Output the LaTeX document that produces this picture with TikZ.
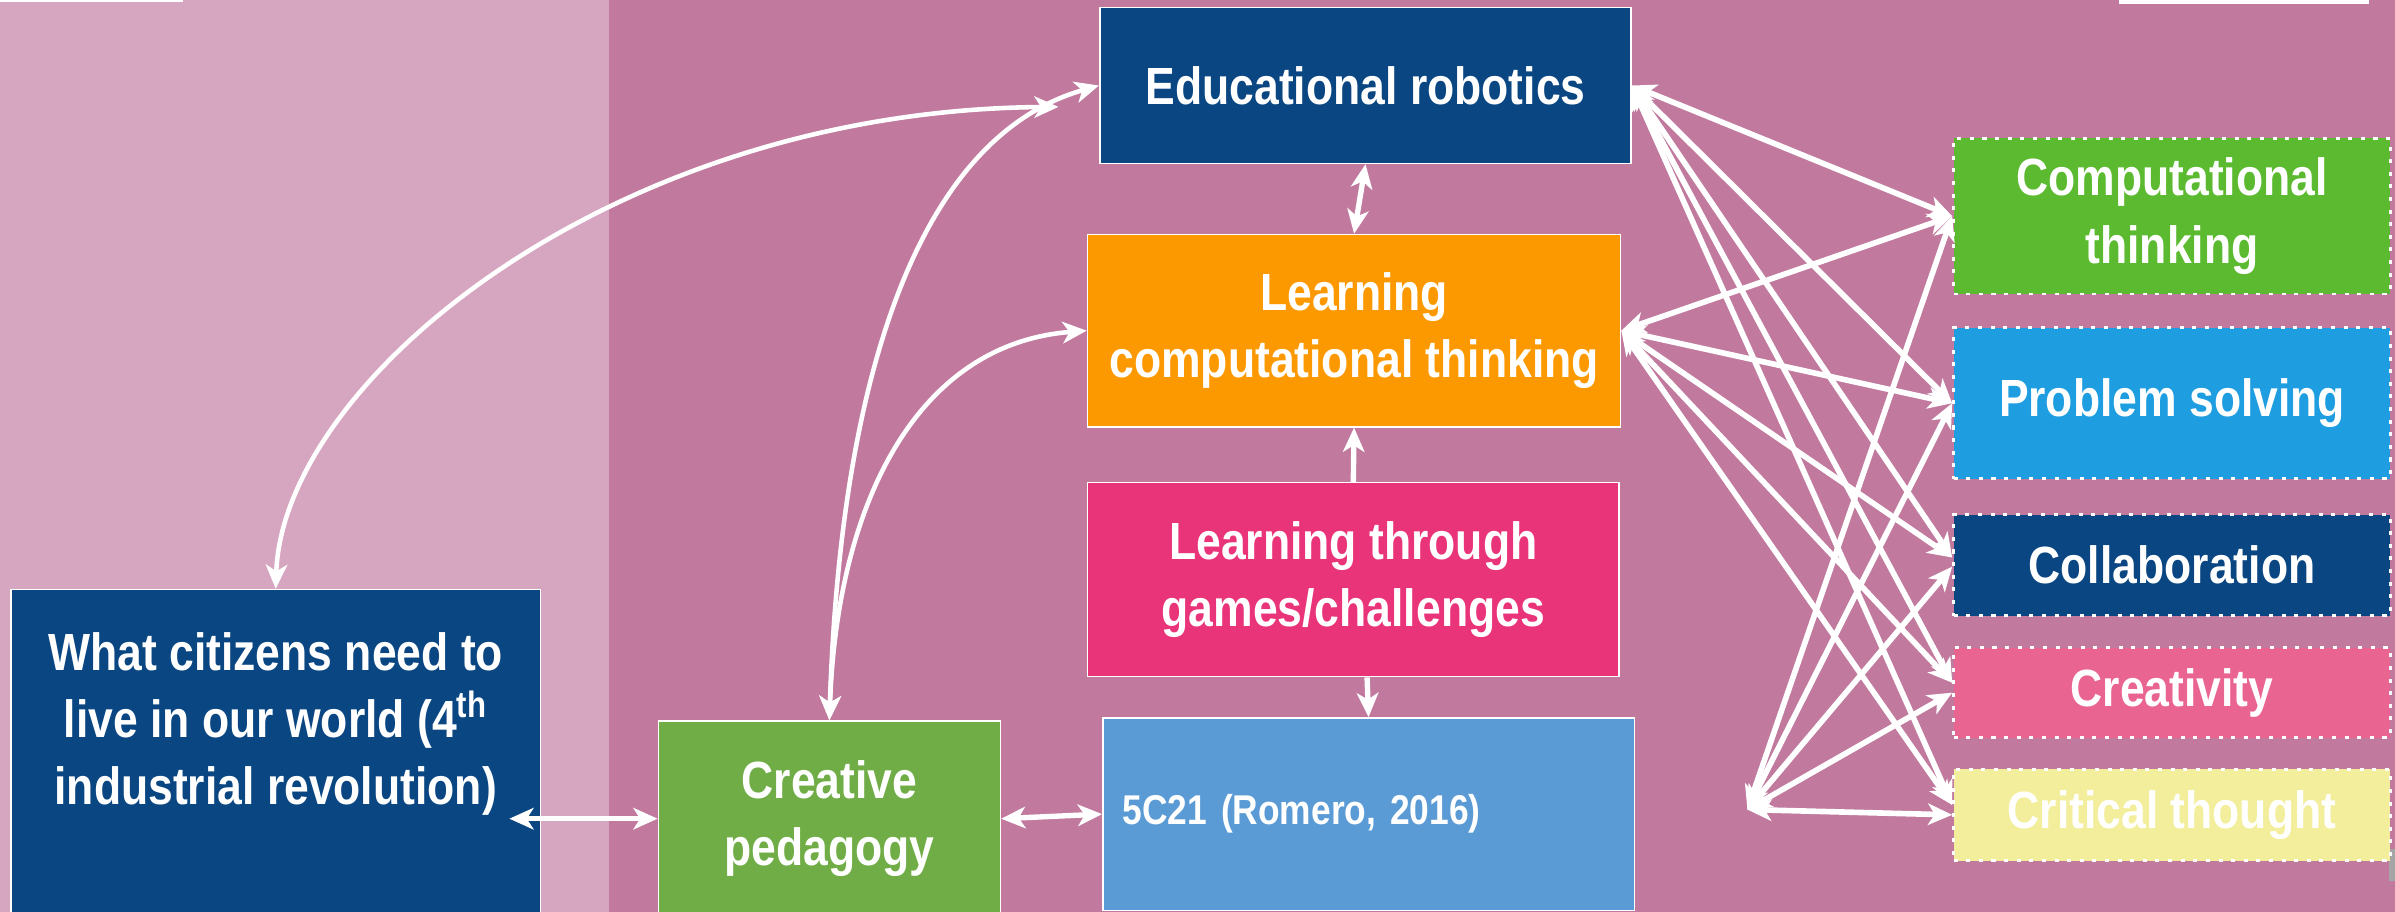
\documentclass[tikz,border=0pt]{standalone}
\usepackage{fontspec}
\newfontfamily\cond{Liberation Sans}[FakeStretch=0.85]
\usetikzlibrary{arrows.meta,calc}
\definecolor{bgdark}{RGB}{193,122,158}
\definecolor{bglight}{RGB}{214,165,191}
\definecolor{navy}{RGB}{10,70,130}
\definecolor{orangeb}{RGB}{253,153,0}
\definecolor{pinkg}{RGB}{233,52,122}
\definecolor{lblue}{RGB}{91,155,213}
\definecolor{greencp}{RGB}{112,173,71}
\definecolor{greenct}{RGB}{91,186,47}
\definecolor{bluep}{RGB}{30,157,224}
\definecolor{pinkc}{RGB}{233,100,145}
\definecolor{yellowc}{RGB}{243,238,156}
\definecolor{grayart}{RGB}{165,165,165}
\begin{document}
\begin{tikzpicture}[x=0.02cm,y=-0.02cm,
  >={Stealth[length=9pt,width=8pt,inset=2.5pt]},
  lbl/.style={font=\cond\bfseries\fontsize{19.5}{25}\selectfont, text=white, align=center},
  box/.style={lbl, rectangle, draw=white, line width=0.6pt, inner sep=0pt},
  skill/.style={box, line width=1.1pt, dash pattern=on 1.5pt off 3.2pt},
  link/.style={draw=white, line width=2pt},
  curvelink/.style={draw=white, line width=1.7pt},
  fan/.style={draw=white, line width=2.1pt, <->}]
\useasboundingbox (0,0) rectangle (1568,597);
\clip (0,0) rectangle (1568,597);
% backgrounds
\fill[bgdark] (0,0) rectangle (1568,597);
\fill[bglight] (0,0) rectangle (399,597);
\fill[white] (0,0) rectangle (120,1.5);
\fill[white] (1387,0) rectangle (1551,2.3);
\fill[grayart] (1564,556) rectangle (1568,577);

% main boxes
\node[box, fill=navy, minimum width=6.96cm, minimum height=2.04cm] (er) at (894,56) {Educational robotics};
\node[box, fill=orangeb, minimum width=6.98cm, minimum height=2.52cm] (lct) at (886.5,216.5) {Learning\\computational thinking};
\node[box, fill=pinkg, minimum width=6.96cm, minimum height=2.54cm] (games) at (886,379.5) {Learning through\\games/challenges};
\node[box, fill=lblue, minimum width=6.96cm, minimum height=2.52cm, inner xsep=0.26cm, text width=6.44cm, align=left, font=\cond\bfseries\fontsize{15.5}{19}\selectfont] (c21) at (896,533) {5C21 (Romero, 2016)};
\node[box, fill=navy, minimum width=6.94cm, minimum height=4.48cm] (cit) at (180.5,498) {};
\node[lbl] (citT) at (180.5,474) {What citizens need to\\live in our world (4\textsuperscript{th}\\industrial revolution)};
\node[box, fill=greencp, minimum width=4.48cm, minimum height=2.56cm] (cp) at (543,536) {Creative\\pedagogy};

% skill boxes
\node[skill, fill=greenct, minimum width=5.72cm, minimum height=2.04cm] (ct) at (1422,141.5) {Computational\\thinking};
\node[skill, fill=bluep, minimum width=5.72cm, minimum height=1.98cm] (ps) at (1422,264) {Problem solving};
\node[skill, fill=navy, minimum width=5.72cm, minimum height=1.32cm] (col) at (1422,370) {Collaboration};
\node[skill, fill=pinkc, minimum width=5.72cm, minimum height=1.18cm] (cre) at (1422,453.5) {Creativity};
\node[skill, fill=yellowc, minimum width=5.72cm, minimum height=1.2cm] (crit) at (1422,533.5) {Critical thought};

% curves
\coordinate (erl) at (693,70);
\draw[curvelink,<->] (cit.north) .. controls (185,250) and (400,72) .. (erl);
\draw[curvelink,<->] (cp.north) .. controls (550,250) and (600,90) .. (er.west);
\draw[curvelink,<->] (cp.north) .. controls (548,330) and (600,225) .. (lct.west);

% short arrows
\draw[link,<->] (er.south) -- (lct.north);
\draw[link,->] (games.north) -- (lct.south);
\draw[link,->] ([xshift=0.18cm]games.south) -- (c21.north);
\draw[link,<->] ($(cit.east |- cp.west)+(-21,0)$) -- (cp.west);
\draw[link,<->] (cp.east) -- (c21.west);

% fan
\coordinate (hub) at (1144,530);
\foreach \s/\o in {ct/0, ps/0, col/-5, cre/-6.5, crit/-6.5}{
  \draw[fan] (er.east) -- ($(\s.west)+(0,\o)$);
  \draw[fan] (lct.east) -- ($(\s.west)+(0,\o)$);
}
\foreach \s/\o in {ct/0, ps/0, col/1, cre/0, crit/0}{
  \draw[fan] (hub) -- ($(\s.west)+(0,\o)$);
}
\end{tikzpicture}
\end{document}
